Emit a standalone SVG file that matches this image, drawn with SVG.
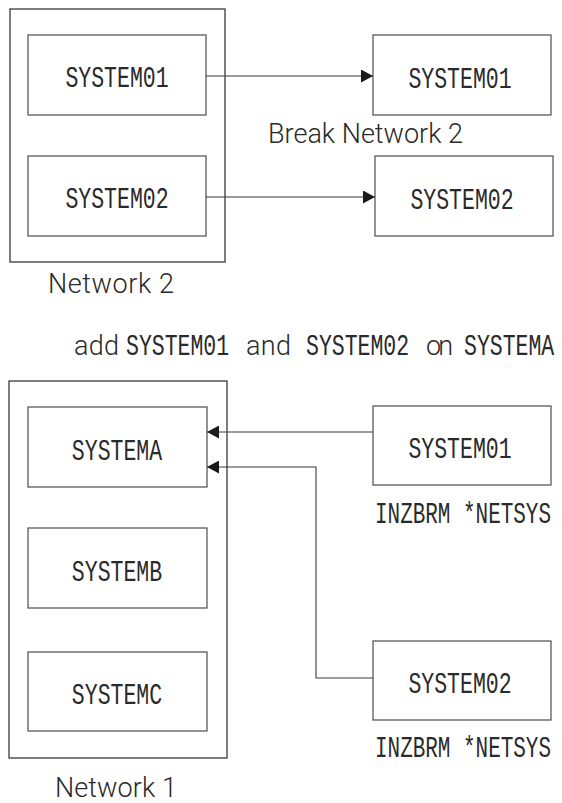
<svg xmlns="http://www.w3.org/2000/svg" width="562" height="803" viewBox="0 0 562 803">
  <style>
    .box { fill: #ffffff; stroke: #5a5a5a; stroke-width: 1.3; }
    .net { fill: none; stroke: #3a3a3a; stroke-width: 1.3; }
    /* narrow, tall system names: regular mono stretched vertically */
    .mono { font-family: "Liberation Mono", "DejaVu Sans Mono", monospace; font-size: 21.5px; fill: #2a2a2a; }
    .mid { text-anchor: middle; }
    .sans { font-family: Roboto, "Liberation Sans", Arial, sans-serif; font-weight: 300; font-size: 27px; fill: #2a2a2a; }
    .conn { fill: none; stroke: #3a3a3a; stroke-width: 1.1; }
  </style>
  <defs>
    <marker id="arrow" viewBox="0 0 12 13" refX="12" refY="6.5" markerWidth="12" markerHeight="13" markerUnits="userSpaceOnUse" orient="auto">
      <path d="M0,0 L12,6.5 L0,13 Z" fill="#1a1a1a"/>
    </marker>
  </defs>
  <rect width="562" height="803" fill="#ffffff"/>

  <!-- Network 2 -->
  <g id="network2">
    <rect class="net" x="10" y="9" width="215" height="253"/>
    <text class="sans" x="48" y="293" textLength="126">Network 2</text>
  </g>
  <g id="n2-system01">
    <rect class="box" x="28" y="35" width="178" height="80"/>
    <text class="mono mid" transform="translate(117,87) scale(1,1.4)">SYSTEM01</text>
  </g>
  <g id="n2-system02">
    <rect class="box" x="28" y="156" width="178" height="80"/>
    <text class="mono mid" transform="translate(117,208) scale(1,1.4)">SYSTEM02</text>
  </g>

  <!-- Broken-out systems -->
  <g id="break-system01">
    <rect class="box" x="373" y="35" width="178" height="80"/>
    <text class="mono mid" transform="translate(460,88) scale(1,1.4)">SYSTEM01</text>
  </g>
  <g id="break-label">
    <text class="sans" x="268" y="143" textLength="195">Break Network 2</text>
  </g>
  <g id="break-system02">
    <rect class="box" x="375" y="156" width="178" height="80"/>
    <text class="mono mid" transform="translate(462,209) scale(1,1.4)">SYSTEM02</text>
  </g>

  <!-- Caption line -->
  <g id="caption">
    <text class="sans" x="74" y="355" textLength="45">add</text>
    <text class="mono" transform="translate(126,355) scale(1,1.4)">SYSTEM01</text>
    <text class="sans" x="246" y="355" textLength="45">and</text>
    <text class="mono" transform="translate(306,355) scale(1,1.4)">SYSTEM02</text>
    <text class="sans" x="426" y="355" textLength="27">on</text>
    <text class="mono" transform="translate(464,355) scale(1,1.4)">SYSTEMA</text>
  </g>

  <!-- Network 1 -->
  <g id="network1">
    <rect class="net" x="9" y="381" width="218" height="377"/>
    <text class="sans" x="55" y="797" textLength="122">Network 1</text>
  </g>
  <g id="systema">
    <rect class="box" x="28" y="407" width="179" height="80"/>
    <text class="mono mid" transform="translate(117,460) scale(1,1.4)">SYSTEMA</text>
  </g>
  <g id="systemb">
    <rect class="box" x="28" y="528" width="179" height="80"/>
    <text class="mono mid" transform="translate(117,581) scale(1,1.4)">SYSTEMB</text>
  </g>
  <g id="systemc">
    <rect class="box" x="28" y="652" width="179" height="79"/>
    <text class="mono mid" transform="translate(117,704) scale(1,1.4)">SYSTEMC</text>
  </g>

  <!-- Systems joining Network 1 -->
  <g id="join-system01">
    <rect class="box" x="373" y="406" width="178" height="79"/>
    <text class="mono mid" transform="translate(460,458) scale(1,1.4)">SYSTEM01</text>
    <text class="mono" transform="translate(375,523) scale(1,1.4)" textLength="176" lengthAdjust="spacingAndGlyphs">INZBRM *NETSYS</text>
  </g>
  <g id="join-system02">
    <rect class="box" x="373" y="641" width="178" height="79"/>
    <text class="mono mid" transform="translate(460,693) scale(1,1.4)">SYSTEM02</text>
    <text class="mono" transform="translate(375,757) scale(1,1.4)" textLength="176" lengthAdjust="spacingAndGlyphs">INZBRM *NETSYS</text>
  </g>

  <!-- Connectors -->
  <g id="connectors">
    <path class="conn" d="M206,76 H373" marker-end="url(#arrow)"/>
    <path class="conn" d="M206,197 H375" marker-end="url(#arrow)"/>
    <path class="conn" d="M373,432 H207" marker-end="url(#arrow)"/>
    <path class="conn" d="M373,678 H316 V467 H207" marker-end="url(#arrow)"/>
  </g>
</svg>
